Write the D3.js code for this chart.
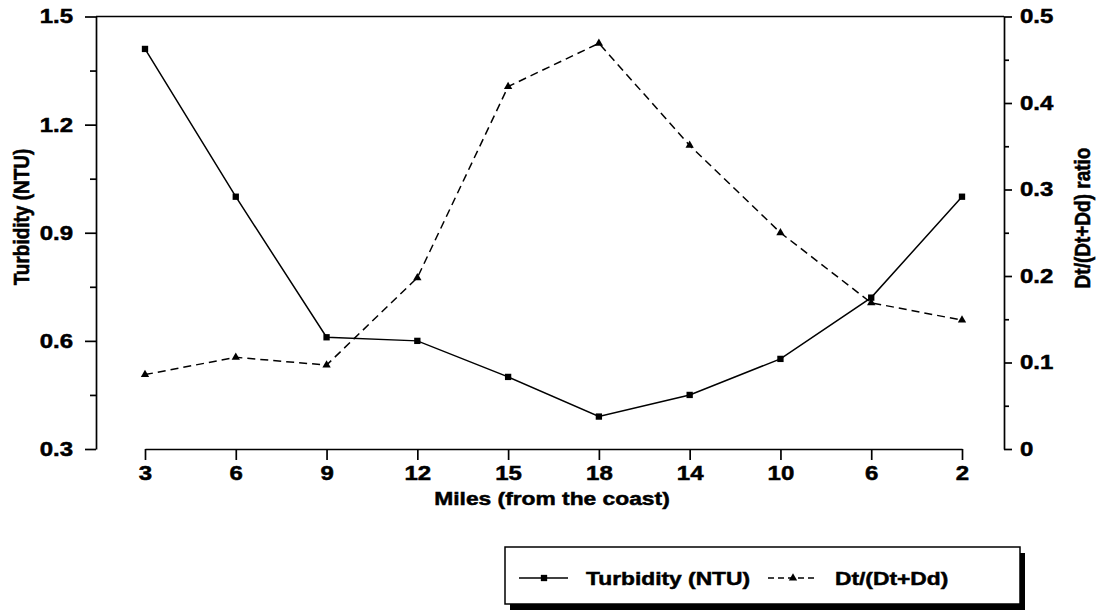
<!DOCTYPE html>
<html>
<head>
<meta charset="utf-8">
<script src="https://cdn.jsdelivr.net/npm/d3@7"></script>
<style>
  body { margin: 0; background: #fff; }
  text { font-family: "Liberation Sans", Arial, sans-serif; font-weight: bold; fill: #000; stroke: #000; stroke-width: 0.5; }
  .axis path, .axis line { stroke: #000; stroke-width: 1.7; }
</style>
</head>
<body>
<div id="chart"></div>
<script>
var miles = ["3", "6", "9", "12", "15", "18", "14", "10", "6", "2"];
var turbidity = [1.41, 1.00, 0.61, 0.60, 0.50, 0.39, 0.45, 0.55, 0.72, 1.00];
var dtRatio = [0.086, 0.106, 0.097, 0.198, 0.419, 0.469, 0.351, 0.25, 0.169, 0.149];
var leftTicks = [0.3, 0.6, 0.9, 1.2, 1.5];
var leftMinor = [0.45, 0.75, 1.05, 1.35];
var rightTicks = [0, 0.1, 0.2, 0.3, 0.4, 0.5];
var rightMinor = [0.05, 0.15, 0.25, 0.35, 0.45];
var legendNames = ["Turbidity (NTU)", "Dt/(Dt+Dd)"];

var W = 1101, H = 611,
    margin = { top: 16.5, right: 97, bottom: 162, left: 96 },
    width = W - margin.left - margin.right,
    height = H - margin.top - margin.bottom,
    sx = 1.2; // the scan is stretched sideways

var svg = d3.select("#chart").append("svg")
    .attr("width", W)
    .attr("height", H)

var g = svg.append("g")
    .attr("transform", "translate(" + margin.left + "," + margin.top + ")")

var xScale = d3.scalePoint()
    .domain(miles.map(function (d, i) { return i }))
    .range([49, width - 42])

var yLeft = d3.scaleLinear().domain([0.3, 1.5]).range([height, 0])
var yRight = d3.scaleLinear().domain([0, 0.5]).range([height, 0])

function stretch(sel) {
    sel.each(function () {
        var t = d3.select(this)
        var x = +t.attr("x") || 0
        t.attr("x", x / sx).attr("transform", "scale(" + sx + ",1)")
    })
}

// top frame line
g.append("line")
    .attr("x1", 0).attr("x2", width)
    .attr("y1", 0).attr("y2", 0)
    .attr("stroke", "#000").attr("stroke-width", 1.7)

// minor ticks
g.append("g").attr("class", "axis minor")
    .call(d3.axisLeft(yLeft).tickValues(leftMinor).tickSize(6).tickFormat(""))
    .select(".domain").remove()
g.append("g").attr("class", "axis minor")
    .attr("transform", "translate(" + width + ",0)")
    .call(d3.axisRight(yRight).tickValues(rightMinor).tickSize(5).tickFormat(""))
    .select(".domain").remove()

g.append("g").attr("class", "axis")
    .call(d3.axisLeft(yLeft)
        .tickValues(leftTicks)
        .tickSize(11)
        .tickSizeOuter(0)
        .tickPadding(12)
        .tickFormat(d3.format(".1f")))

g.append("g").attr("class", "axis")
    .attr("transform", "translate(" + width + ",0)")
    .call(d3.axisRight(yRight)
        .tickValues(rightTicks)
        .tickSize(8)
        .tickSizeOuter(0)
        .tickPadding(8)
        .tickFormat(function (d) { return d === 0 ? "0" : d3.format(".1f")(d) }))

g.append("g").attr("class", "axis")
    .attr("transform", "translate(0," + height + ")")
    .call(d3.axisBottom(xScale)
        .tickSize(11)
        .tickSizeOuter(0)
        .tickPadding(6)
        .tickFormat(function (d) { return miles[d] }))

svg.selectAll(".axis text")
    .attr("font-size", 20)
    .attr("font-family", null)
    .attr("fill", null)
    .call(stretch)

// axis titles
g.append("text")
    .attr("text-anchor", "middle")
    .attr("font-size", 19)
    .attr("transform", "translate(" + (width / 2 + 2) + "," + (height + 56) + ") scale(" + sx + ",1)")
    .text("Miles (from the coast)")

svg.append("text")
    .attr("text-anchor", "middle")
    .attr("font-size", 19)
    .attr("transform", "translate(29,217) scale(" + sx + ",1) rotate(-90)")
    .text("Turbidity (NTU)")

svg.append("text")
    .attr("text-anchor", "middle")
    .attr("font-size", 19)
    .attr("transform", "translate(1090,218) scale(" + sx + ",1) rotate(-90)")
    .text("Dt/(Dt+Dd) ratio")

// series
var turbLine = d3.line()
    .x(function (d, i) { return xScale(i) })
    .y(function (d) { return yLeft(d) })

var ratioLine = d3.line()
    .x(function (d, i) { return xScale(i) })
    .y(function (d) { return yRight(d) })

g.append("path")
    .datum(turbidity)
    .attr("d", turbLine)
    .attr("fill", "none")
    .attr("stroke", "#000")
    .attr("stroke-width", 1.5)

g.append("path")
    .datum(dtRatio)
    .attr("d", ratioLine)
    .attr("fill", "none")
    .attr("stroke", "#000")
    .attr("stroke-width", 1.5)
    .attr("stroke-dasharray", "8,5")

var square = d3.symbol().type(d3.symbolSquare).size(40)
var triangle = d3.symbol().type(d3.symbolTriangle).size(30)

g.selectAll("path.turb")
    .data(turbidity)
    .enter().append("path")
    .attr("class", "turb")
    .attr("d", square)
    .attr("transform", function (d, i) { return "translate(" + xScale(i) + "," + yLeft(d) + ")" })

g.selectAll("path.ratio")
    .data(dtRatio)
    .enter().append("path")
    .attr("class", "ratio")
    .attr("d", triangle)
    .attr("transform", function (d, i) { return "translate(" + xScale(i) + "," + yRight(d) + ")" })

// legend
var legend = svg.append("g").attr("transform", "translate(505,547)")
var boxW = 515, boxH = 57

legend.append("rect")
    .attr("x", 5).attr("y", 6)
    .attr("width", boxW).attr("height", boxH)
    .attr("fill", "#000")

legend.append("rect")
    .attr("width", boxW).attr("height", boxH)
    .attr("fill", "#fff")
    .attr("stroke", "#000")
    .attr("stroke-width", 1.5)

var items = [
    { name: legendNames[0], x: 14, dash: null, sym: square },
    { name: legendNames[1], x: 263, dash: "6,4", sym: triangle }
]

var item = legend.selectAll("g.item")
    .data(items)
    .enter().append("g")
    .attr("class", "item")
    .attr("transform", function (d) { return "translate(" + d.x + ",31)" })

item.append("line")
    .attr("x1", 0).attr("x2", 49)
    .attr("stroke", "#000")
    .attr("stroke-width", 1.4)
    .attr("stroke-dasharray", function (d) { return d.dash })

item.append("path")
    .attr("d", function (d) { return d.sym() })
    .attr("transform", "translate(25,0)")

item.append("text")
    .attr("font-size", 19)
    .attr("transform", "translate(67,7) scale(" + sx + ",1)")
    .text(function (d) { return d.name })
</script>
</body>
</html>
